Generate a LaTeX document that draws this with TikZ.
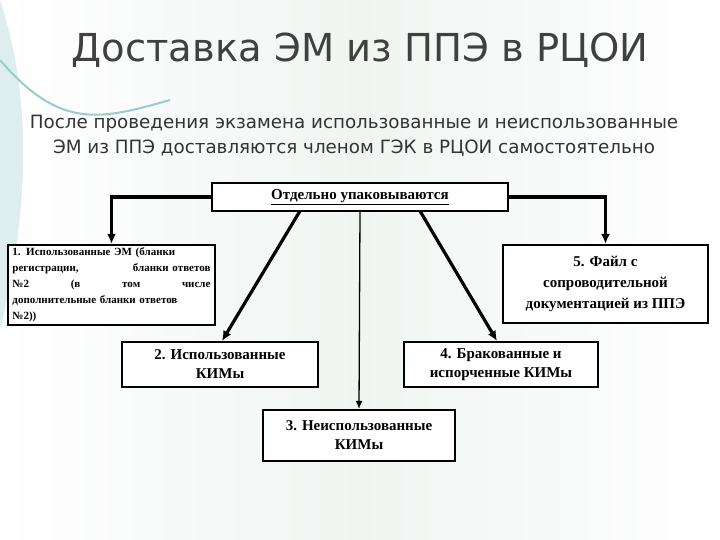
\documentclass[tikz,border=0pt]{standalone}
\usepackage{fontspec}
\setmainfont{Liberation Serif}
\newfontfamily\ttl{DejaVu Sans}
\usetikzlibrary{arrows.meta}
\begin{document}
\begin{tikzpicture}[x=1pt,y=-1pt,
 bx/.style={draw=black,line width=2.2pt,fill=white,inner sep=3pt,align=center,font=\fontsize{15}{19}\selectfont\bfseries},
 ar/.style={line width=3.2pt,-{Latex[length=10pt,width=9pt]}}]
\useasboundingbox (0,0) rectangle (720,540);
\shade[left color=white,right color=white,middle color={rgb,255:red,240;green,245;blue,242}] (0,0) rectangle (720,540);
\fill[teal!25,opacity=0.5] (0,0) .. controls (40,120) and (20,250) .. (0,330) -- cycle;
\draw[teal!40,line width=2pt] (0,60) .. controls (60,130) and (100,120) .. (170,100);
\node[font=\ttl\fontsize{38.5}{40}\selectfont,text=black!75] (t) at (360,50) {Доставка ЭМ из ППЭ в РЦОИ};
\node[font=\ttl\fontsize{18.3}{25}\selectfont,text=black!80,align=center] (s) at (354,136) {После проведения экзамена использованные и неиспользованные\\ЭМ из ППЭ доставляются членом ГЭК в РЦОИ самостоятельно};
\node[bx,minimum width=296pt,minimum height=28pt] (top) at (360,197) {\underline{Отдельно упаковываются}};
\node[bx,minimum width=207pt,minimum height=80pt,align=left,text width=198pt,font=\fontsize{11}{16}\selectfont\bfseries] (b1) at (111.5,285) {1. Использованные ЭМ (бланки\\регистрации,\hfill бланки ответов\\№2\hfill (в\hfill том\hfill числе\\дополнительные бланки ответов\\№2))};
\node[bx,minimum width=205pt,minimum height=78pt,font=\fontsize{15}{21}\selectfont\bfseries] (b5) at (605.5,284) {5. Файл с\\сопроводительной\\документацией из ППЭ};
\node[bx,minimum width=196pt,minimum height=45pt] (b2) at (220,364.5) {2. Использованные\\КИМы};
\node[bx,minimum width=194pt,minimum height=45pt] (b4) at (501,364.5) {4. Бракованные и\\испорченные КИМы};
\node[bx,minimum width=192pt,minimum height=51pt] (b3) at (359,435.5) {3. Неиспользованные\\КИМы};
\draw[ar] (top.west) -| (b1.north);
\draw[ar] (top.east) -| (b5.north);
\draw[ar] (300,211) -- (222,341);
\draw[ar] (420,211) -- (497,341);
\draw[line width=1.3pt,-{Latex[length=8pt,width=7pt]}] (top.south) -- (b3.north);
\end{tikzpicture}
\end{document}
